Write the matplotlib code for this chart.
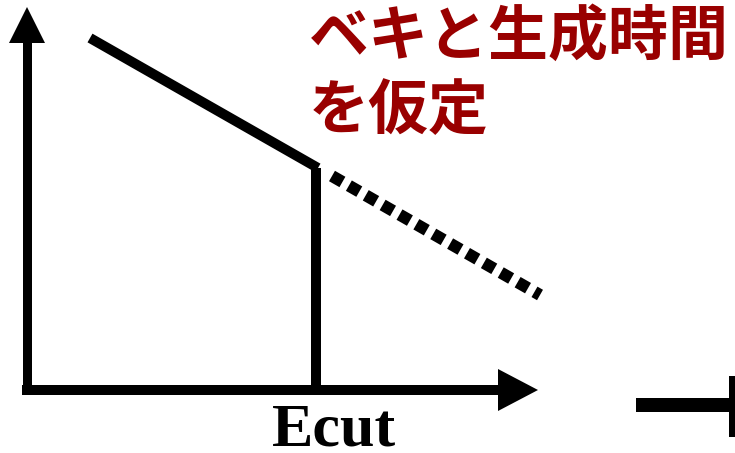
import matplotlib
matplotlib.use("Agg")
import matplotlib.pyplot as plt

# schematic geometry in pixel units (y grows downward)
powerlaw_x = [90, 318]
powerlaw_y = [38, 168]
cutoff_x = [316, 316]
cutoff_y = [168, 390]
extrap_x = [332, 540]
extrap_y = [176, 295]

title_lines = ["ベキと生成時間", "を仮定"]
xlabel = "Ecut"

RED = "#990000"
PX = 0.72  # points per pixel at dpi=100


def arrow_head(ax, tip, direction, length, half_width):
    # filled triangle pointing along direction
    tx, ty = tip
    dx, dy = direction
    bx, by = tx - dx * length, ty - dy * length
    px, py = -dy, dx
    ax.fill([tx, bx + px * half_width, bx - px * half_width],
            [ty, by + py * half_width, by - py * half_width],
            color="black", lw=0)


fig = plt.figure(figsize=(7.35, 4.53), dpi=100)
ax = fig.add_axes([0, 0, 1, 1])
ax.set_xlim(0, 735)
ax.set_ylim(453, 0)
ax.axis("off")

# axes of the sketch
ax.plot([27, 27], [392, 40], color="black", lw=9 * PX, solid_capstyle="butt")
arrow_head(ax, (27, 7), (0, -1), 36, 18)
ax.plot([22, 500], [390, 390], color="black", lw=10 * PX, solid_capstyle="butt")
arrow_head(ax, (538, 390), (1, 0), 40, 21)

# spectrum
ax.plot(powerlaw_x, powerlaw_y, color="black", lw=10 * PX, solid_capstyle="butt")
ax.plot(cutoff_x, cutoff_y, color="black", lw=10 * PX, solid_capstyle="butt")
ax.plot(extrap_x, extrap_y, color="black", lw=12 * PX,
        linestyle=(0, (1, 0.62)), dash_capstyle="butt")

ax.text(334, 445, xlabel, ha="center", va="baseline", fontsize=62 * PX,
        fontweight="bold", family="Liberation Serif")

for i, line in enumerate(title_lines):
    ax.text(309, 6 + i * 75, line, ha="left", va="top", fontsize=60 * PX,
            fontweight="bold", color=RED,
            family=["Noto Sans CJK JP", "DejaVu Sans"])

# arrow leading off to the right edge
ax.plot([636, 735], [405, 405], color="black", lw=14 * PX, solid_capstyle="butt")
ax.plot([732, 732], [376, 437], color="black", lw=6 * PX, solid_capstyle="butt")

fig.savefig("out.png", dpi=100)
